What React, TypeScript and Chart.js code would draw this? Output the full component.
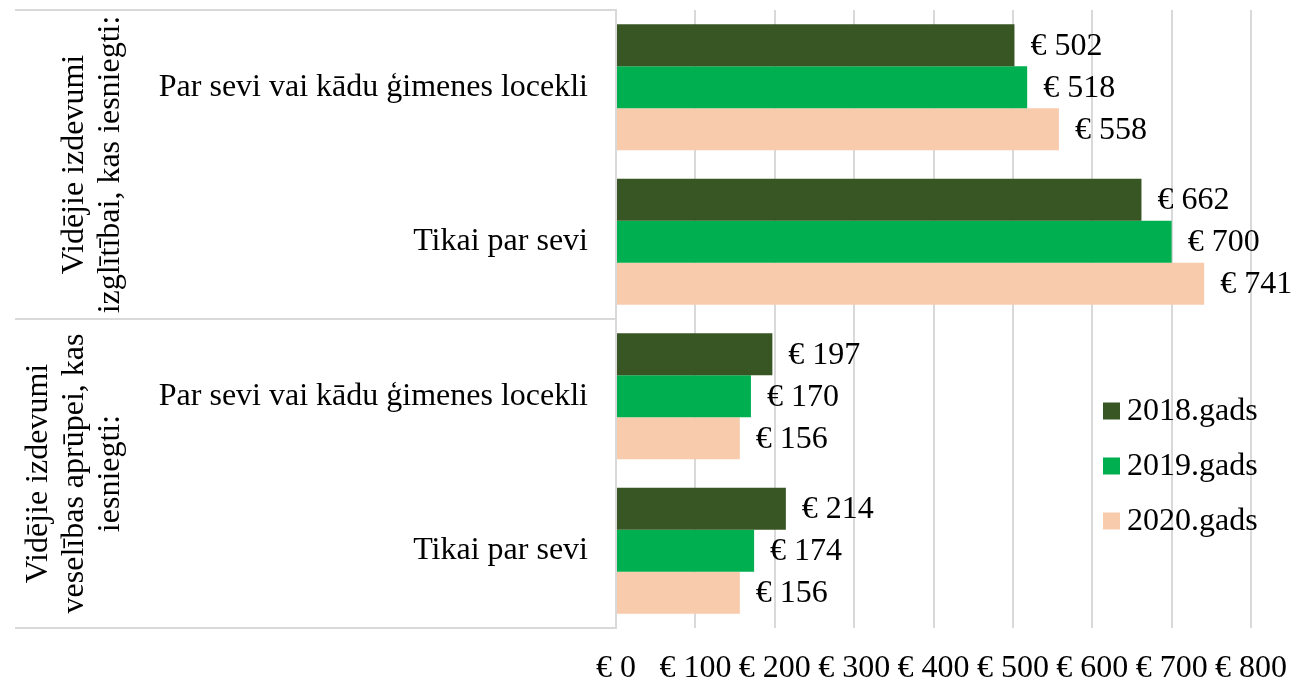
import React, { useEffect, useRef } from "react";
import { Chart, registerables } from "chart.js";

Chart.register(...registerables);

// ---- data ----
const categories = [
  "Par sevi vai kādu ģimenes locekli",
  "Tikai par sevi",
  "Par sevi vai kādu ģimenes locekli",
  "Tikai par sevi",
];
const groupLabels = [
  ["Vidējie izdevumi", "izglītībai, kas iesniegti:"],
  ["Vidējie izdevumi", "veselības aprūpei, kas", "iesniegti:"],
];
const groupSizes = [2, 2];
const seriesNames = ["2018.gads", "2019.gads", "2020.gads"];
const values2018 = [502, 662, 197, 214];
const values2019 = [518, 700, 170, 174];
const values2020 = [558, 741, 156, 156];
const seriesColors = ["#375623", "#00B050", "#F8CBAD"];
const xMin = 0;
const xMax = 800;
const xStep = 100;
const currencyPrefix = "€ ";

const FONT_FAMILY = "'Liberation Serif', 'Times New Roman', serif";
const FONT_SIZE = 32;
const GRID = "#d9d9d9";

const decorPlugin = {
  id: "decor",
  afterDatasetsDraw(chart: any) {
    const { ctx } = chart;
    ctx.save();
    ctx.font = `${FONT_SIZE}px ${FONT_FAMILY}`;
    ctx.fillStyle = "#000";
    ctx.textAlign = "left";
    ctx.textBaseline = "middle";
    chart.data.datasets.forEach((ds: any, di: number) => {
      const meta = chart.getDatasetMeta(di);
      meta.data.forEach((bar: any, i: number) => {
        ctx.fillText(currencyPrefix + ds.data[i], bar.x + 16, bar.y + 1);
      });
    });
    ctx.restore();
  },
  afterDraw(chart: any) {
    const { ctx, chartArea, scales } = chart;
    const y = scales.y;
    const step = y.getPixelForValue(1) - y.getPixelForValue(0);
    ctx.save();
    // group separators in the label area
    ctx.strokeStyle = GRID;
    ctx.lineWidth = 2;
    const bounds: number[] = [y.getPixelForValue(0) - step / 2];
    let idx = 0;
    groupSizes.forEach((n) => {
      idx += n;
      bounds.push(y.getPixelForValue(idx - 1) + step / 2);
    });
    bounds.forEach((b) => {
      ctx.beginPath();
      ctx.moveTo(15, b);
      ctx.lineTo(chartArea.left, b);
      ctx.stroke();
    });
    // rotated group labels
    ctx.font = `${FONT_SIZE}px ${FONT_FAMILY}`;
    ctx.fillStyle = "#000";
    ctx.textAlign = "center";
    ctx.textBaseline = "alphabetic";
    const lineGap = 36;
    const lastBaseline = 119;
    let start = 0;
    groupLabels.forEach((lines, gi) => {
      const n = groupSizes[gi];
      const cy = (y.getPixelForValue(start) + y.getPixelForValue(start + n - 1)) / 2;
      lines.forEach((line, li) => {
        const bx = lastBaseline - (lines.length - 1 - li) * lineGap;
        ctx.save();
        ctx.translate(bx, cy);
        ctx.rotate(-Math.PI / 2);
        ctx.fillText(line, 0, 0);
        ctx.restore();
      });
      start += n;
    });
    // legend inside plot area
    const lx = chartArea.right - 148;
    const ly0 = chartArea.bottom - 217;
    const rowGap = 55;
    ctx.textAlign = "left";
    ctx.textBaseline = "middle";
    chart.data.datasets.forEach((ds: any, di: number) => {
      const cy = ly0 + di * rowGap;
      ctx.fillStyle = ds.backgroundColor;
      ctx.fillRect(lx, cy - 8.5, 17, 17);
      ctx.fillStyle = "#000";
      ctx.fillText(ds.label, lx + 24, cy + 1);
    });
    ctx.restore();
  },
};

export default function App() {
  const canvasRef = useRef<HTMLCanvasElement | null>(null);

  useEffect(() => {
    if (!canvasRef.current) return;
    const seriesValues = [values2018, values2019, values2020];
    const chart = new Chart(canvasRef.current, {
      type: "bar",
      data: {
        labels: categories,
        datasets: seriesNames.map((name, i) => ({
          label: name,
          data: seriesValues[i],
          backgroundColor: seriesColors[i],
          borderWidth: 0,
          barPercentage: 1,
          categoryPercentage: 0.816,
        })),
      },
      options: {
        indexAxis: "y",
        animation: false,
        responsive: false,
        devicePixelRatio: 1,
        layout: { padding: { left: 0, right: 40, top: 10, bottom: 0 } },
        plugins: {
          legend: { display: false },
          tooltip: { enabled: false },
        },
        scales: {
          x: {
            type: "linear",
            min: xMin,
            max: xMax,
            ticks: {
              stepSize: xStep,
              padding: 21,
              color: "#000",
              font: { family: FONT_FAMILY, size: FONT_SIZE },
              maxRotation: 0,
              autoSkip: false,
              callback: (v: any) => currencyPrefix + v,
            },
            grid: { color: GRID, lineWidth: 2, drawTicks: false },
            border: { display: false },
            afterFit: (scale: any) => {
              scale.height = 53;
              scale.paddingLeft = 0;
              scale.paddingRight = 0;
            },
          },
          y: {
            type: "category",
            ticks: {
              padding: 28,
              color: "#000",
              font: { family: FONT_FAMILY, size: FONT_SIZE },
              autoSkip: false,
            },
            grid: { display: false, drawTicks: false },
            border: { display: true, color: GRID, width: 2 },
            afterFit: (scale: any) => {
              scale.width = 616;
              scale.paddingTop = 0;
              scale.paddingBottom = 0;
            },
          },
        },
      },
      plugins: [decorPlugin],
    });
    return () => chart.destroy();
  }, []);

  return (
    <div style={{ position: "fixed", left: 0, top: 0, width: 1291, height: 681, background: "#fff" }}>
      <canvas ref={canvasRef} width={1291} height={681} />
    </div>
  );
}
